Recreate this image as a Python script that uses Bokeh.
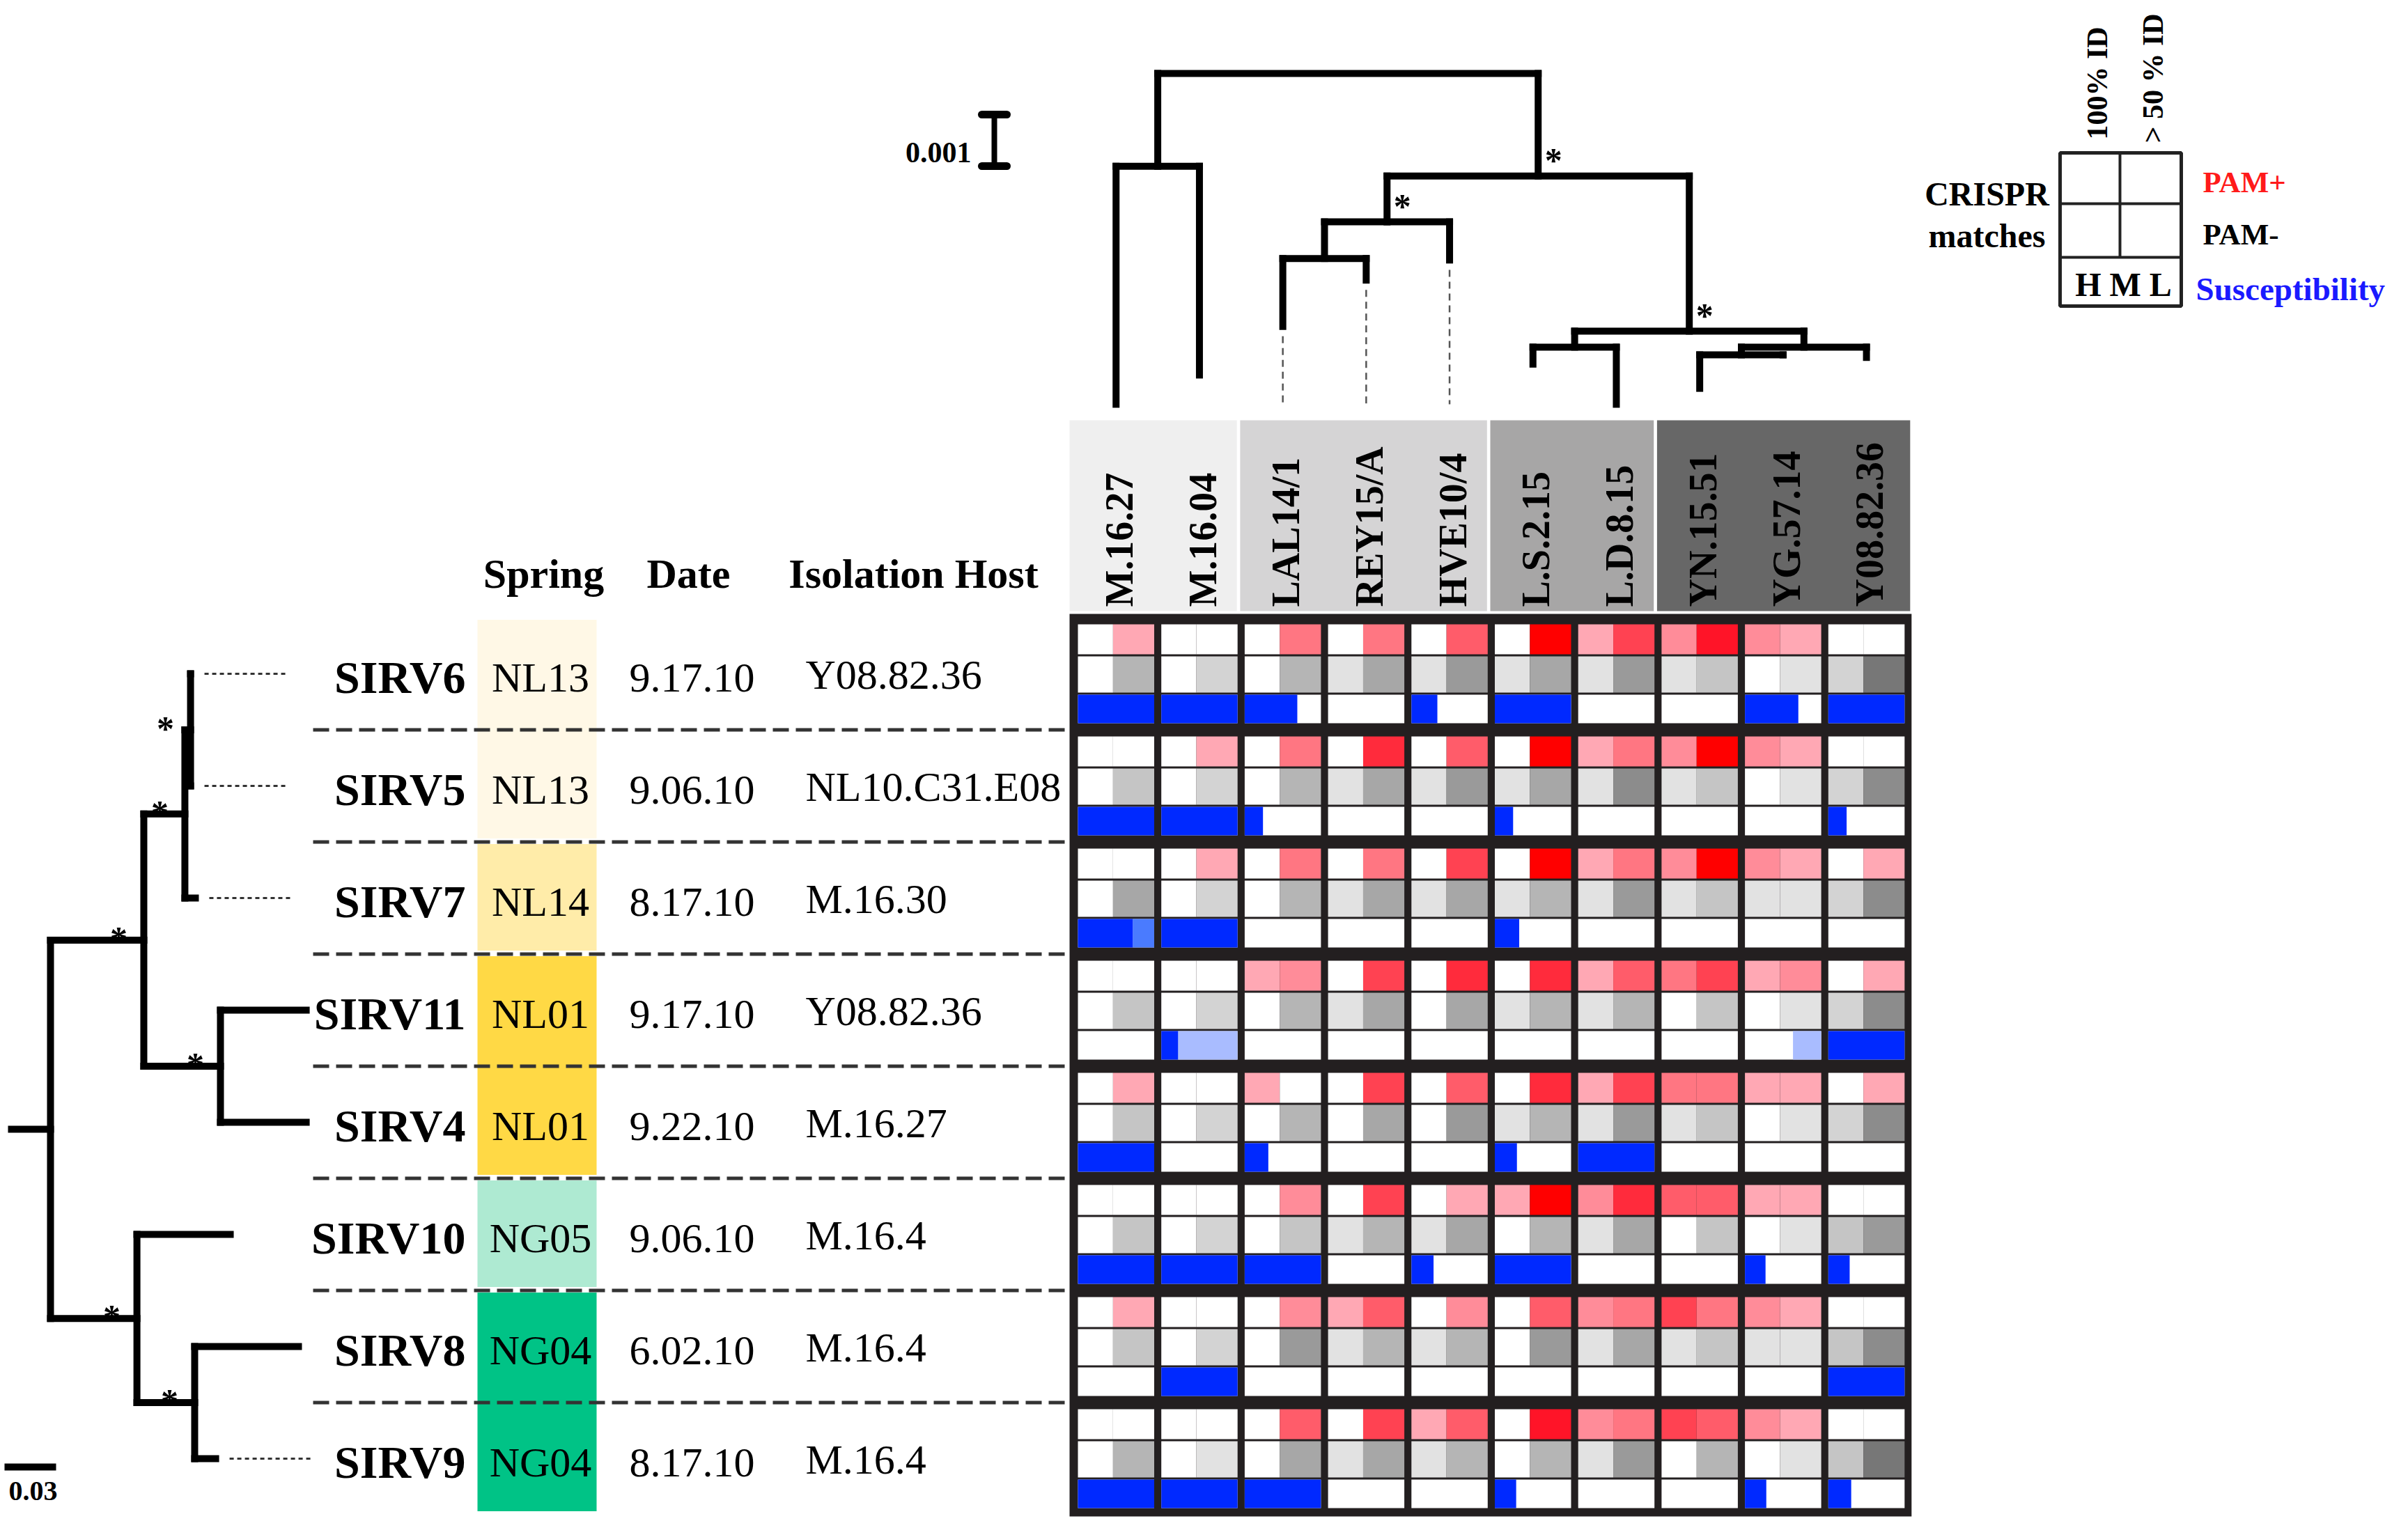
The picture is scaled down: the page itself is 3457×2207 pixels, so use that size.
import math
from collections import defaultdict
from bokeh.plotting import figure
from bokeh.models import Range1d, ColumnDataSource
from bokeh.embed import file_html
from bokeh.resources import INLINE
from bokeh.core.properties import value

# ----------------------------- data -----------------------------
strains = ["SIRV6", "SIRV5", "SIRV7", "SIRV11", "SIRV4", "SIRV10", "SIRV8", "SIRV9"]
springs = ["NL13", "NL13", "NL14", "NL01", "NL01", "NG05", "NG04", "NG04"]
dates = ["9.17.10", "9.06.10", "8.17.10", "9.17.10", "9.22.10", "9.06.10", "6.02.10", "8.17.10"]
isolation_hosts = ["Y08.82.36", "NL10.C31.E08", "M.16.30", "Y08.82.36", "M.16.27",
                   "M.16.4", "M.16.4", "M.16.4"]

host_strains = ["M.16.27", "M.16.04", "LAL14/1", "REY15/A", "HVE10/4",
                "L.S.2.15", "L.D.8.15", "YN.15.51", "YG.57.14", "Y08.82.36"]
host_group_sizes = [2, 3, 2, 3]

# CRISPR match intensity levels (0 = none)
pam_plus_100 = [
    [0, 0, 0, 0, 0, 0, 1, 2, 2, 0],
    [0, 0, 0, 0, 0, 0, 1, 2, 2, 0],
    [0, 0, 0, 0, 0, 0, 1, 2, 2, 0],
    [0, 0, 1, 0, 0, 0, 1, 3, 1, 0],
    [0, 0, 1, 0, 0, 0, 1, 3, 1, 0],
    [0, 0, 0, 0, 0, 1, 2, 4, 1, 0],
    [0, 0, 0, 1, 0, 0, 2, 5, 2, 0],
    [0, 0, 0, 0, 1, 0, 2, 5, 2, 0],
]
pam_plus_50 = [
    [1, 0, 3, 3, 4, 8, 5, 7, 1, 0],
    [0, 1, 3, 6, 4, 8, 3, 8, 1, 0],
    [0, 1, 3, 3, 5, 8, 3, 8, 1, 1],
    [0, 0, 2, 5, 6, 6, 4, 5, 2, 1],
    [1, 0, 0, 5, 4, 6, 5, 3, 1, 1],
    [0, 0, 2, 5, 1, 8, 6, 4, 1, 0],
    [1, 0, 2, 4, 2, 4, 3, 3, 1, 0],
    [0, 0, 4, 5, 4, 7, 3, 4, 1, 0],
]
pam_minus_100 = [
    [0, 0, 0, 1, 1, 1, 1, 1, 0, 2],
    [0, 0, 0, 1, 1, 1, 1, 1, 0, 2],
    [0, 0, 0, 1, 1, 1, 1, 1, 1, 2],
    [0, 0, 0, 1, 0, 1, 1, 0, 0, 2],
    [0, 0, 0, 0, 0, 1, 1, 1, 0, 2],
    [0, 0, 0, 1, 1, 0, 1, 0, 0, 3],
    [0, 0, 0, 1, 1, 0, 1, 1, 1, 3],
    [0, 0, 0, 1, 1, 0, 1, 0, 0, 3],
]
pam_minus_50 = [
    [4, 2, 4, 5, 6, 5, 6, 3, 1, 8],
    [3, 2, 4, 5, 6, 5, 7, 3, 1, 7],
    [5, 2, 4, 5, 5, 4, 6, 3, 1, 7],
    [3, 2, 4, 5, 5, 4, 4, 3, 1, 7],
    [3, 2, 4, 5, 6, 4, 6, 3, 1, 7],
    [3, 2, 3, 4, 5, 4, 5, 3, 1, 6],
    [3, 2, 6, 4, 4, 6, 5, 3, 1, 7],
    [4, 1, 5, 5, 4, 4, 6, 4, 1, 8],
]
# susceptibility (fraction of the H-M-L bar that is filled)
susceptibility = [
    [1.0, 1.0, 0.69, 0.0, 0.34, 1.0, 0.0, 0.0, 0.70, 1.0],
    [1.0, 1.0, 0.24, 0.0, 0.0, 0.24, 0.0, 0.0, 0.0, 0.24],
    [0.72, 1.0, 0.0, 0.0, 0.0, 0.32, 0.0, 0.0, 0.0, 0.0],
    [0.0, 0.22, 0.0, 0.0, 0.0, 0.0, 0.0, 0.0, 0.0, 1.0],
    [1.0, 0.0, 0.31, 0.0, 0.0, 0.29, 1.0, 0.0, 0.0, 0.0],
    [1.0, 1.0, 1.0, 0.0, 0.29, 1.0, 0.0, 0.0, 0.27, 0.28],
    [0.0, 1.0, 0.0, 0.0, 0.0, 0.0, 0.0, 0.0, 0.0, 1.0],
    [1.0, 1.0, 1.0, 0.0, 0.0, 0.28, 0.0, 0.0, 0.28, 0.30],
]
# weaker susceptibility segments: (row, col, from, to, tone)
weak_susceptibility = [(2, 0, 0.72, 1.0, "medium"), (3, 1, 0.22, 1.0, "low"), (3, 8, 0.63, 1.0, "low")]

# host phylogeny: (node, parent, distance from root)
host_tree = [
    ("root", None, 0.0),
    ("m16", "root", 0.00180),
    ("M.16.27", "m16", 0.00642), ("M.16.04", "m16", 0.00585),
    ("a", "root", 0.00199),
    ("b", "a", 0.00288),
    ("c", "b", 0.00359),
    ("LAL14/1", "c", 0.00491), ("REY15/A", "c", 0.00401),
    ("HVE10/4", "b", 0.00362),
    ("d", "a", 0.00500),
    ("e", "d", 0.00531),
    ("L.S.2.15", "e", 0.00564), ("L.D.8.15", "e", 0.00642),
    ("f", "d", 0.00531),
    ("g", "f", 0.00546),
    ("YN.15.51", "g", 0.00611), ("YG.57.14", "g", 0.00546),
    ("Y08.82.36", "f", 0.00551),
]
host_tree_support = ["a", "b", "d"]
host_tree_dashed = ["LAL14/1", "REY15/A", "HVE10/4"]
host_scale_value = 0.001

# virus phylogeny: (node, parent, distance from root)
virus_tree = [
    ("root", None, 0.0),
    ("x", "root", 0.0543),
    ("n657", "x", 0.0782),
    ("n65", "n657", 0.0815),
    ("SIRV6", "n65", 0.0815), ("SIRV5", "n65", 0.0815),
    ("SIRV7", "n657", 0.0843),
    ("n114", "x", 0.0989),
    ("SIRV11", "n114", 0.1488), ("SIRV4", "n114", 0.1488),
    ("y", "root", 0.0503),
    ("SIRV10", "y", 0.1046),
    ("n89", "y", 0.0839),
    ("SIRV8", "n89", 0.1443), ("SIRV9", "n89", 0.0961),
]
virus_tree_support = ["n65", "n657", "x", "n114", "y", "n89"]
virus_tree_dotted = ["SIRV6", "SIRV5", "SIRV7", "SIRV9"]
virus_root_stub = 0.0227
virus_scale_value = 0.03

# ----------------------------- styles -----------------------------
RED = ["#ffffff", "#ffa8b4", "#ff8c99", "#ff7682", "#ff5c6a", "#ff4252", "#ff2b3c", "#ff1428", "#ff0000"]
GRAY = ["#ffffff", "#e2e2e2", "#d3d3d3", "#c5c5c5", "#b5b5b5", "#a7a7a7", "#9a9a9a", "#8c8c8c", "#777777"]
BLUE = "#0029ff"
WEAK_BLUE = {"medium": "#4a7bff", "low": "#a9bcff"}
SPRING_COLORS = {"NL13": "#fff8e6", "NL14": "#ffeca9", "NL01": "#ffd945",
                 "NG05": "#aeead2", "NG04": "#00c386"}
BAND_COLORS = ["#efefef", "#d5d4d5", "#a7a6a6", "#676767"]
FRAME = "#231f20"
SERIF = value("Liberation Serif")
TXT_SHIFT = 0.22  # baseline correction (fraction of font size)
TXT_XSHIFT = 8    # horizontal correction for horizontal texts

W, H = 3440, 2188
p = figure(width=W, height=H, x_range=Range1d(8, 8 + W), y_range=Range1d(8 + H, 8),
           output_backend="svg", toolbar_location=None, x_axis_type=None, y_axis_type=None,
           min_border=0)
p.grid.visible = False
p.outline_line_color = None
p.background_fill_color = "white"
p.border_fill_color = "white"


def add_text(xs, ys, texts, size, bold=False, align="left", color="#000000", angle=0.0):
    xs = list(xs); ys = list(ys)
    if angle == 0.0:
        ys = [y - TXT_SHIFT * size for y in ys]
        xs = [x + TXT_XSHIFT for x in xs]
    else:
        xs = [x - TXT_SHIFT * size for x in xs]
    src = ColumnDataSource(dict(x=xs, y=ys, t=list(texts)))
    p.text(x="x", y="y", text="t", source=src, text_font=SERIF,
           text_font_size=f"{size}px", text_font_style="bold" if bold else "normal",
           text_align=align, text_baseline="alphabetic", text_color=color, angle=angle)


# ----------------------------- heatmap layout -----------------------------
HM_X0, HM_PITCH, HM_CW = 1555.0, 119.7, 109.5
HM_Y0, HM_RP = 904.0, 161.0
SUBROWS = [(0, 43), (46, 98), (101, 142)]
SPLIT = 0.46
n_rows, n_cols = len(strains), len(host_strains)
col_left = [HM_X0 + c * HM_PITCH for c in range(n_cols)]
col_center = [l + HM_CW / 2 for l in col_left]
row_top = [HM_Y0 + r * HM_RP for r in range(n_rows)]
row_center = [t + 71 for t in row_top]

# frame
p.quad(left=[col_left[0] - 12], right=[col_left[-1] + HM_CW + 10],
       top=[row_top[0] - 15], bottom=[row_top[-1] + SUBROWS[2][1] + 12],
       fill_color=FRAME, line_color=None)

Ls, Rs, Ts, Bs, Cs = [], [], [], [], []


def cell(l, r, t, b, c):
    Ls.append(l); Rs.append(r); Ts.append(t); Bs.append(b); Cs.append(c)


for r in range(n_rows):
    t0 = row_top[r]
    for c in range(n_cols):
        x0 = col_left[c]; x1 = x0 + HM_CW; xs = x0 + SPLIT * HM_CW
        (a0, a1), (b0, b1), (c0, c1) = SUBROWS
        cell(x0, xs, t0 + a0, t0 + a1, RED[pam_plus_100[r][c]])
        cell(xs, x1, t0 + a0, t0 + a1, RED[pam_plus_50[r][c]])
        cell(x0, xs, t0 + b0, t0 + b1, GRAY[pam_minus_100[r][c]])
        cell(xs, x1, t0 + b0, t0 + b1, GRAY[pam_minus_50[r][c]])
        cell(x0, x1, t0 + c0, t0 + c1, "#ffffff")
for (r, c, s, e, tone) in weak_susceptibility:
    x0 = col_left[c]; t0 = row_top[r]
    cell(x0 + s * HM_CW, x0 + e * HM_CW, t0 + SUBROWS[2][0], t0 + SUBROWS[2][1], WEAK_BLUE[tone])
for r in range(n_rows):
    for c in range(n_cols):
        f = susceptibility[r][c]
        if f > 0:
            x0 = col_left[c]; t0 = row_top[r]
            cell(x0, x0 + f * HM_CW, t0 + SUBROWS[2][0], t0 + SUBROWS[2][1], BLUE)
p.quad(left=Ls, right=Rs, top=Ts, bottom=Bs, fill_color=Cs, line_color=None)

# header band
BAND_TOP, BAND_BOT = 611, 885
start = 0
bl, br, bc = [], [], []
for g, size in enumerate(host_group_sizes):
    first, last = start, start + size - 1
    l = col_left[first] - 6.5 if first > 0 else col_left[0] - 12
    rr = col_left[last] + HM_CW - 1 if last < n_cols - 1 else col_left[-1] + HM_CW + 8
    bl.append(l); br.append(rr); bc.append(BAND_COLORS[g])
    start += size
p.quad(left=bl, right=br, top=[BAND_TOP] * len(bl), bottom=[BAND_BOT] * len(bl),
       fill_color=bc, line_color=None)
add_text([cc + 17 for cc in col_center], [879] * n_cols, host_strains, 56, bold=True,
         align="left", angle=math.pi / 2)


# ----------------------------- trees -----------------------------
def tree_layout(nodes, leaf_pos):
    children = defaultdict(list)
    depth, parent = {}, {}
    root = None
    for name, par, d in nodes:
        depth[name] = d
        parent[name] = par
        if par is None:
            root = name
        else:
            children[par].append(name)
    pos = {}

    def place(n):
        if not children[n]:
            pos[n] = leaf_pos[n]
        else:
            ps = [place(ch) for ch in children[n]]
            pos[n] = (min(ps) + max(ps)) / 2
        return pos[n]

    place(root)
    return root, children, depth, parent, pos


TREE_W = 10
STAR = 50

# host tree (vertical, on top of the heatmap)
TT_Y0, TT_K = 113.0, 74000.0
root_h, ch_h, dep_h, par_h, pos_h = tree_layout(host_tree, dict(zip(host_strains, col_center)))
sx0, sx1, sy0, sy1 = [], [], [], []
for n, par in par_h.items():
    if par is not None:
        sx0.append(pos_h[n]); sx1.append(pos_h[n])
        sy0.append(TT_Y0 + dep_h[par] * TT_K); sy1.append(TT_Y0 + dep_h[n] * TT_K)
    if ch_h[n]:
        xs_ = [pos_h[c] for c in ch_h[n]]
        sx0.append(min(xs_)); sx1.append(max(xs_))
        sy0.append(TT_Y0 + dep_h[n] * TT_K); sy1.append(TT_Y0 + dep_h[n] * TT_K)
p.segment(x0=sx0, y0=sy0, x1=sx1, y1=sy1, line_width=TREE_W, line_color="black", line_cap="square")
leaf_max = max(dep_h[n] for n in host_strains)
p.segment(x0=[pos_h[n] for n in host_tree_dashed],
          y0=[TT_Y0 + dep_h[n] * TT_K + 14 for n in host_tree_dashed],
          x1=[pos_h[n] for n in host_tree_dashed],
          y1=[TT_Y0 + leaf_max * TT_K for n in host_tree_dashed],
          line_width=2.5, line_color="#555555", line_dash="10 7")
add_text([pos_h[n] + 22 - TXT_XSHIFT for n in host_tree_support],
         [TT_Y0 + dep_h[n] * TT_K - 12 for n in host_tree_support],
         ["*"] * len(host_tree_support), STAR, bold=True, align="center")
# host scale bar
HSB_X, HSB_Y = 1435, 172
hlen = host_scale_value * TT_K
p.segment(x0=[HSB_X], y0=[HSB_Y], x1=[HSB_X], y1=[HSB_Y + hlen], line_width=8, line_color="black")
p.segment(x0=[HSB_X - 18, HSB_X - 18], y0=[HSB_Y, HSB_Y + hlen], x1=[HSB_X + 18, HSB_X + 18],
          y1=[HSB_Y, HSB_Y + hlen], line_width=11, line_color="black", line_cap="round")
add_text([HSB_X - 41], [HSB_Y + hlen / 2 + 27], [f"{host_scale_value:g}"], 42, bold=True, align="right")

# virus tree (horizontal, on the left)
LT_X0, LT_K = 80.0, 2467.0
root_v, ch_v, dep_v, par_v, pos_v = tree_layout(virus_tree, dict(zip(strains, row_center)))
sx0, sx1, sy0, sy1 = [], [], [], []
for n, par in par_v.items():
    if par is not None:
        sy0.append(pos_v[n]); sy1.append(pos_v[n])
        sx0.append(LT_X0 + dep_v[par] * LT_K); sx1.append(LT_X0 + dep_v[n] * LT_K)
    if ch_v[n]:
        ys_ = [pos_v[c] for c in ch_v[n]]
        sy0.append(min(ys_)); sy1.append(max(ys_))
        sx0.append(LT_X0 + dep_v[n] * LT_K); sx1.append(LT_X0 + dep_v[n] * LT_K)
sy0.append(pos_v[root_v]); sy1.append(pos_v[root_v])
sx0.append(LT_X0 - virus_root_stub * LT_K); sx1.append(LT_X0)
p.segment(x0=sx0, y0=sy0, x1=sx1, y1=sy1, line_width=TREE_W, line_color="black", line_cap="square")
p.segment(x0=[LT_X0 + dep_v[n] * LT_K + 20 for n in virus_tree_dotted],
          y0=[pos_v[n] for n in virus_tree_dotted],
          x1=[LT_X0 + dep_v[n] * LT_K + 136 for n in virus_tree_dotted],
          y1=[pos_v[n] for n in virus_tree_dotted],
          line_width=3, line_color="#333333", line_dash="6 5")
add_text([LT_X0 + dep_v[n] * LT_K - 36 - TXT_XSHIFT for n in virus_tree_support],
         [pos_v[n] + 9 for n in virus_tree_support],
         ["*"] * len(virus_tree_support), STAR, bold=True, align="center")
# virus scale bar
VSB_X, VSB_Y = 14, 2114
vlen = virus_scale_value * LT_K
p.segment(x0=[VSB_X], y0=[VSB_Y], x1=[VSB_X + vlen], y1=[VSB_Y], line_width=10, line_color="black")
add_text([VSB_X + vlen / 2 - 4], [VSB_Y + 43], [f"{virus_scale_value:g}"], 40, bold=True, align="center")

# ----------------------------- left table -----------------------------
SP_L, SP_R = 693, 864
groups = []
for r, s in enumerate(springs):
    if groups and groups[-1][0] == s:
        groups[-1][2] = r
    else:
        groups.append([s, r, r])
p.quad(left=[SP_L] * len(groups), right=[SP_R] * len(groups),
       top=[row_top[g[1]] - 9.5 + 3 for g in groups],
       bottom=[row_top[g[2]] + 151.5 - 5 for g in groups],
       fill_color=[SPRING_COLORS[g[0]] for g in groups], line_color=None)

sep_y = [row_top[r] + 151.5 for r in range(n_rows - 1)]
p.segment(x0=[457] * len(sep_y), x1=[col_left[0] - 12] * len(sep_y), y0=sep_y, y1=sep_y,
          line_width=5, line_color="#333333", line_dash="23 10")

add_text([668] * n_rows, [y + 20 for y in row_center], strains, 66, bold=True, align="right")
add_text([(SP_L + SP_R) / 2 - 3] * n_rows, [y + 19 for y in row_center], springs, 60, align="center")
add_text([993] * n_rows, [y + 19 for y in row_center], dates, 60, align="center")
add_text([1156] * n_rows, [y + 15 for y in row_center], isolation_hosts, 60, align="left")
add_text([780, 988, 1311], [845, 845, 845], ["Spring", "Date", "Isolation Host"], 60,
         bold=True, align="center")

# ----------------------------- legend -----------------------------
LG_L, LG_R, LG_T, LG_B = 2965, 3139, 227, 447
LG_R1, LG_R2, LG_MID = 300, 377, 3051
p.quad(left=[LG_L], right=[LG_R], top=[LG_T], bottom=[LG_B], fill_color=None,
       line_color="#222222", line_width=5)
p.segment(x0=[LG_L, LG_L, LG_MID], x1=[LG_R, LG_R, LG_MID], y0=[LG_R1, LG_R2, LG_T],
          y1=[LG_R1, LG_R2, LG_R2], line_color="#222222", line_width=4)
add_text([3028, 3108], [208, 213], ["100% ID", "> 50 % ID"], 42, bold=True, align="left",
         angle=math.pi / 2)
add_text([2852, 2852], [297, 357], ["CRISPR", "matches"], 48, bold=True, align="center")
add_text([3162], [278], ["PAM+"], 43, bold=True, color="#ff1a1a")
add_text([3162], [353], ["PAM-"], 43, bold=True)
add_text([3152], [433], ["Susceptibility"], 47, bold=True, color="#1a1aff")
add_text([(LG_L + LG_R) / 2 - 4], [427], ["H M L"], 48, bold=True, align="center")

open("out.html", "w").write(file_html(p, INLINE))
